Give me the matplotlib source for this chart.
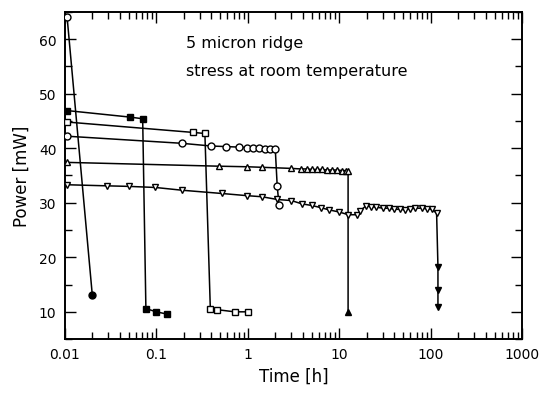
import numpy as np
import matplotlib
matplotlib.use('Agg')
import matplotlib.pyplot as plt
from matplotlib.ticker import FixedLocator, LogLocator, NullFormatter, MultipleLocator

# circle: single high-power device, fails almost immediately
circ_t = [0.0106, 0.02]
circ_p = [64.0, 13.0]
circ_open = [True, False]

# filled squares
sqf_t = [0.0106, 0.052, 0.071, 0.077, 0.10, 0.13]
sqf_p = [46.9, 45.7, 45.4, 10.6, 10.0, 9.6]
sqf_open = [False] * 6

# open squares
sqo_t = [0.0106, 0.25, 0.34, 0.39, 0.46, 0.72, 1.0]
sqo_p = [44.8, 42.9, 42.7, 10.5, 10.4, 10.0, 10.0]
sqo_open = [True] * 7

# open circles (hexagon-like)
hex_t = [0.0106, 0.19, 0.40, 0.58, 0.80, 0.98, 1.14, 1.33, 1.55, 1.75, 2.0, 2.1, 2.2]
hex_p = [42.2, 40.9, 40.4, 40.3, 40.2, 40.1, 40.0, 40.0, 39.9, 39.9, 39.8, 33.0, 29.5]
hex_open = [True] * 13

# triangles up
tri_t = [0.0106, 0.49, 0.98, 1.43, 2.97, 3.8, 4.4, 5.0, 5.7, 6.5, 7.4, 8.4, 9.5,
         10.7, 11.8, 12.5, 12.5]
tri_p = [37.4, 36.7, 36.6, 36.5, 36.3, 36.2, 36.2, 36.1, 36.1, 36.1, 36.0, 36.0,
         36.0, 35.9, 35.9, 35.8, 10.0]
tri_open = [True] * 16 + [False]

# triangles down
tdn_t = [0.0106, 0.029, 0.05, 0.098, 0.19, 0.52, 0.98, 1.43, 2.1, 3.0, 3.9, 5.0,
         6.3, 7.7, 10.0, 12.6, 15.6, 17.0, 19.4, 22.0, 25.0, 30.0, 35.0, 40.0,
         46.0, 53.0, 60.0, 68.0, 80.0, 90.0, 103.0, 116.0, 120.0, 120.0, 120.0]
tdn_p = [33.3, 33.1, 33.0, 32.8, 32.3, 31.7, 31.3, 31.1, 30.6, 30.4, 29.8, 29.5,
         29.1, 28.7, 28.3, 27.8, 27.8, 28.5, 29.4, 29.3, 29.2, 29.0, 29.0, 28.8,
         28.8, 28.7, 28.9, 29.0, 29.0, 28.9, 28.8, 28.1, 18.3, 14.0, 10.8]
tdn_open = [True] * 32 + [False] * 3

series = [
    (circ_t, circ_p, circ_open, 'o'),
    (sqf_t, sqf_p, sqf_open, 's'),
    (sqo_t, sqo_p, sqo_open, 's'),
    (hex_t, hex_p, hex_open, 'o'),
    (tri_t, tri_p, tri_open, '^'),
    (tdn_t, tdn_p, tdn_open, 'v'),
]

x_ticks = [0.01, 0.1, 1, 10, 100, 1000]
x_labels = ['0.01', '0.1', '1', '10', '100', '1000']
y_ticks = [10, 20, 30, 40, 50, 60]

fig = plt.figure(figsize=(5.4, 4.02), dpi=100)
ax = fig.add_axes([0.120, 0.154, 0.847, 0.814])

for t, p, op, m in series:
    t = np.array(t)
    p = np.array(p)
    op = np.array(op)
    ax.plot(t, p, '-', color='black', lw=1.1, zorder=2)
    ax.plot(t[op], p[op], m, mfc='white', mec='black', mew=1.0, ms=5, ls='none', zorder=3)
    ax.plot(t[~op], p[~op], m, mfc='black', mec='black', mew=1.0, ms=5, ls='none', zorder=3)

ax.set_xscale('log')
ax.set_xlim(0.01, 1000)
ax.set_ylim(5, 65)
ax.xaxis.set_major_locator(FixedLocator(x_ticks))
ax.set_xticklabels(x_labels)
ax.xaxis.set_minor_locator(LogLocator(base=10, subs=np.arange(2, 10)))
ax.xaxis.set_minor_formatter(NullFormatter())
ax.yaxis.set_major_locator(FixedLocator(y_ticks))
ax.yaxis.set_minor_locator(MultipleLocator(5))

ax.tick_params(which='both', direction='in', top=True, right=True, width=1.0,
               labelsize=10, pad=6)
ax.tick_params(which='major', length=8)
ax.tick_params(which='minor', length=5)
for s in ax.spines.values():
    s.set_linewidth(1.4)

ax.set_xlabel('Time [h]', fontsize=12, labelpad=4)
ax.set_ylabel('Power [mW]', fontsize=12, labelpad=6)

ax.text(0.265, 0.905, '5 micron ridge', transform=ax.transAxes, fontsize=11.5,
        va='center', ha='left')
ax.text(0.265, 0.822, 'stress at room temperature', transform=ax.transAxes,
        fontsize=11.5, va='center', ha='left')

fig.savefig('out.png', dpi=100)
